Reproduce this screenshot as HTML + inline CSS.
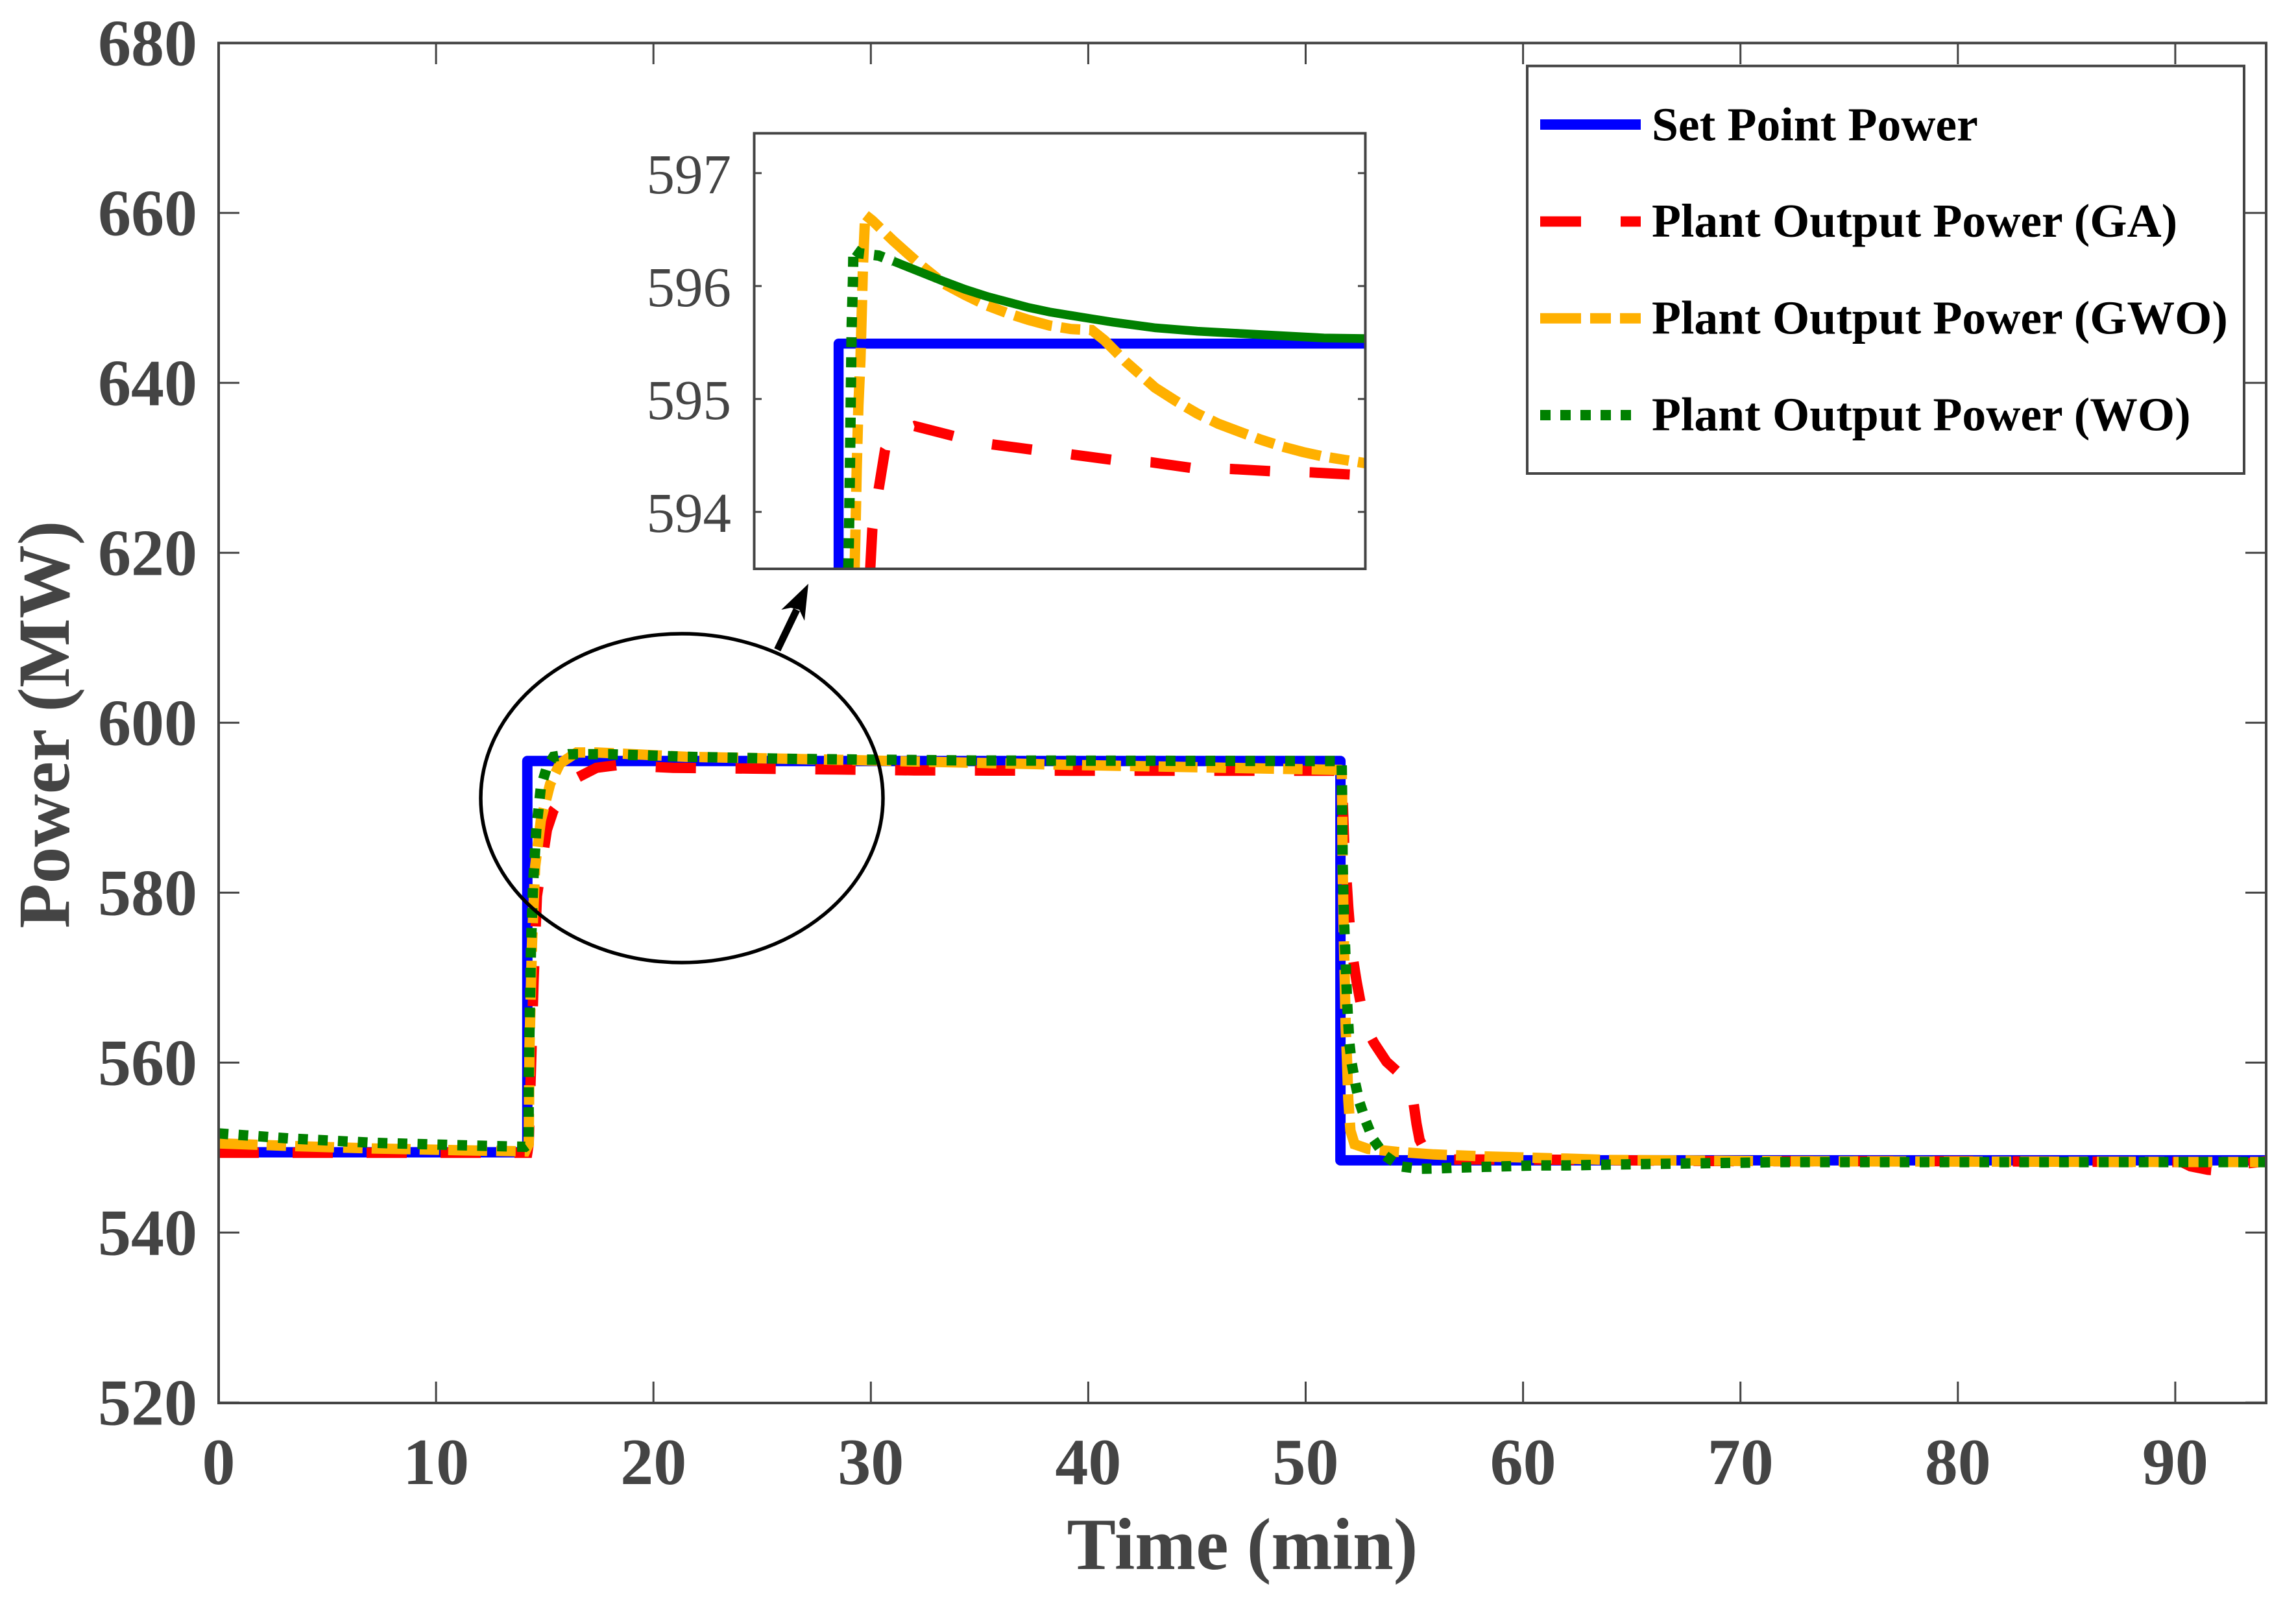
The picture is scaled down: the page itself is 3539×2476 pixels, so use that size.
<!DOCTYPE html>
<html lang="en">
<head>
<meta charset="utf-8">
<title>Power vs Time</title>
<style>
html,body{margin:0;padding:0;background:#fff}
svg{display:block}
text{font-family:"Liberation Serif",serif}
.tick-label{font-weight:bold;font-size:102px;fill:#444}
.axis-title{font-weight:bold;font-size:113px;fill:#444}
.inset-label{font-size:87px;fill:#444}
.legend-label{font-weight:bold;font-size:73.6px;fill:#000}
</style>
</head>
<body>
<svg id="chart" xmlns="http://www.w3.org/2000/svg" width="3539" height="2476" viewBox="0 0 3539 2476">
  <defs>
    <clipPath id="main-clip"><rect x="337" y="66" width="3158" height="2098"></rect></clipPath>
    <clipPath id="inset-clip"><rect x="1162" y="205" width="943" height="672"></rect></clipPath>
  </defs>
  <rect x="0" y="0" width="3539" height="2476" fill="#fff"></rect>
  <g id="main-ticks"></g>
  <g id="main-series" clip-path="url(#main-clip)"></g>
  <rect x="337" y="66.3" width="3156" height="2096.7" fill="none" stroke="#444" stroke-width="4"></rect>
  <g id="tick-labels"></g>
  <text class="axis-title" x="1915" y="2419" text-anchor="middle">Time (min)</text>
  <text class="axis-title" transform="translate(106 1117) rotate(-90)" text-anchor="middle">Power (MW)</text>
  <ellipse cx="1051" cy="1230.5" rx="310" ry="253.5" fill="none" stroke="#000" stroke-width="5.5"></ellipse>
  <path d="M1198.3 1001.7 L1228 940" fill="none" stroke="#000" stroke-width="11"></path>
  <polygon points="1246,900 1240,957 1232,940 1219,937 1204.3,940" fill="#000"></polygon>
  <rect x="1162.5" y="205.5" width="942" height="671.5" fill="#fff"></rect>
  <g id="inset-ticks"></g>
  <g id="inset-series" clip-path="url(#inset-clip)"></g>
  <rect x="1162.5" y="205.5" width="942" height="671.5" fill="none" stroke="#444" stroke-width="4"></rect>
  <g>
    <rect x="2354" y="101.7" width="1105" height="628.3" fill="#fff" stroke="#444" stroke-width="4"></rect>
    <line x1="2374" x2="2529" y1="192" y2="192" stroke="#0000ff" stroke-width="16"></line>
    <text class="legend-label" x="2546" y="216.6">Set Point Power</text>
    <line x1="2374" x2="2529" y1="341.5" y2="341.5" stroke="#ff0000" stroke-width="16" stroke-dasharray="63 61 31"></line>
    <text class="legend-label" x="2546" y="365">Plant Output Power (GA)</text>
    <line x1="2374" x2="2529" y1="490.7" y2="490.7" stroke="#ffb000" stroke-width="16" stroke-dasharray="63 14 32 14 32"></line>
    <text class="legend-label" x="2546" y="514.5">Plant Output Power (GWO)</text>
    <line x1="2374" x2="2529" y1="640" y2="640" stroke="#008000" stroke-width="16" stroke-dasharray="16 15"></line>
    <text class="legend-label" x="2546" y="663.7">Plant Output Power (WO)</text>
  </g>
</svg>
<script>
// ---- tick labels ----
const xTicks = [0, 10, 20, 30, 40, 50, 60, 70, 80, 90];
const yTicks = [520, 540, 560, 580, 600, 620, 640, 660, 680];
const insetYTicks = [594, 595, 596, 597];

// ---- main plot series ----
const setTime = [0, 14.2, 14.2, 51.6, 51.6, 94.2];
const setPower = [549.45, 549.45, 595.5, 595.5, 548.5, 548.5];

const gaTime = [0, 5, 10, 14.2, 14.26, 14.49, 14.64, 15.1, 15.4, 16.54, 17.38, 18.29, 20.9, 24.6, 28.4, 32, 40, 51.66, 51.77, 51.96, 52.12, 52.34, 52.53, 52.77, 53.15, 53.72, 54.2, 54.67, 54.96, 55.1, 55.24, 55.53, 56.1, 60, 70, 80, 90.3, 90.7, 91.5, 92.4, 92.8, 94.2];
const gaPower = [549.4, 549.4, 549.4, 549.4, 550.4, 569.9, 579.6, 587.4, 589.7, 593.6, 594.7, 595, 594.7, 594.6, 594.5, 594.4, 594.35, 594.35, 586, 578.3, 573.2, 569.6, 567, 564.1, 562.3, 560.1, 559, 557.9, 555.3, 552.8, 550.9, 549.5, 548.6, 548.6, 548.4, 548.4, 548.3, 547.8, 547.4, 547.2, 548, 548.4];

const gwoTime = [0, 3.26, 7.07, 10.9, 14.1, 14.26, 14.3, 14.41, 14.56, 14.82, 15.25, 15.7, 16.47, 17.38, 21.5, 26.06, 30, 40, 51.6, 51.66, 51.68, 51.7, 51.74, 51.8, 51.84, 51.9, 51.96, 52.06, 52.25, 52.87, 54.2, 55.9, 58.6, 62, 63.9, 72, 94.2];
const gwoPower = [550.5, 550.2, 549.9, 549.7, 549.55, 550.4, 562, 573.8, 583.1, 588.5, 592.8, 595.2, 596.5, 596.5, 596, 595.76, 595.56, 595, 594.45, 594.4, 590.4, 583.5, 576.9, 569.6, 564.1, 560.4, 555.7, 552, 550.4, 549.85, 549.5, 549.2, 548.93, 548.7, 548.55, 548.4, 548.3];

const woTime = [0, 3.26, 7.07, 10.9, 14.1, 14.26, 14.26, 14.3, 14.37, 14.46, 14.61, 14.82, 15.1, 15.4, 16.09, 17.99, 21.49, 26.06, 30.6, 34.7, 51.6, 51.66, 51.68, 51.7, 51.77, 51.84, 51.91, 52.01, 52.12, 52.29, 52.48, 52.77, 53.1, 53.63, 54.34, 55.24, 56.1, 57, 58.77, 60.57, 62, 63.9, 72, 94.2];
const woPower = [551.67, 551.08, 550.57, 550.3, 550.1, 550.4, 558.2, 564, 573.8, 580.8, 587.4, 592.4, 594.8, 596, 596.3, 596.3, 596, 595.76, 595.64, 595.56, 595.5, 595.15, 590.4, 583.5, 576.5, 571.8, 567, 562.3, 559.9, 557.5, 555.3, 553.1, 551, 549.1, 547.8, 547.5, 547.55, 547.65, 547.77, 547.9, 547.9, 548, 548.3, 548.3];

// ---- inset series ----
const insetSetTime = [14.2, 14.2, 52.02];
const insetSetPower = [593.3, 595.49, 595.49];

const insetGaTime = [16.47, 16.62, 17.07, 17.53, 18.28, 19.65, 22.52, 25.09, 28.12, 30.84, 33.87, 36.59, 39.46, 42.34, 45.21, 48.09, 50.96, 52.02];
const insetGaPower = [593.5, 593.85, 594.2, 594.55, 594.7, 594.76, 594.67, 594.6, 594.55, 594.51, 594.46, 594.44, 594.39, 594.38, 594.36, 594.35, 594.33, 594.32];

const insetGwoTime = [15.35, 15.41, 15.5, 15.62, 15.77, 15.86, 15.95, 16.11, 16.62, 18.13, 19.95, 21.76, 23.28, 24.79, 26.3, 27.82, 29.33, 30.84, 32.35, 33.26, 34.78, 35.84, 36.89, 38.41, 39.92, 41.43, 42.94, 44.46, 45.97, 47.48, 48.99, 50.5, 52.02];
const insetGwoPower = [593.5, 593.82, 594.38, 594.94, 595.35, 595.77, 596.19, 596.63, 596.58, 596.4, 596.2, 596.02, 595.92, 595.83, 595.76, 595.7, 595.65, 595.62, 595.61, 595.52, 595.33, 595.215, 595.1, 594.98, 594.87, 594.78, 594.71, 594.64, 594.58, 594.53, 594.49, 594.46, 594.43];

const insetWoRiseTime = [14.9, 14.96, 15.02, 15.08, 15.14, 15.23, 15.26, 15.71, 17.07, 18.13];
const insetWoRisePower = [593.5, 593.91, 594.44, 595.08, 595.66, 596.05, 596.33, 596.29, 596.27, 596.22];
const insetWoDecayTime = [18.13, 19.95, 21.76, 23.28, 24.79, 26.3, 27.82, 29.33, 30.84, 32.35, 33.87, 36.89, 39.92, 42.94, 45.97, 48.99, 52.02];
const insetWoDecayPower = [596.22, 596.13, 596.04, 595.97, 595.91, 595.86, 595.81, 595.77, 595.74, 595.71, 595.68, 595.63, 595.6, 595.58, 595.56, 595.54, 595.535];

// ---- axis functions ----
function xMain(t) { return 337 + t * 33.51; }
function yMain(v) { return 66.3 + (680 - v) * 13.1; }
function xInset(t) { return 1162.5 + (t - 8.15) * 21.5; }
function yInset(v) { return 441 + (596 - v) * 174.1; }

const NS = 'http://www.w3.org/2000/svg';
const byId = (id) => document.getElementById(id);

function buildPoints(times, values, xf, yf) {
  return times.map((t, i) => xf(t).toFixed(1) + ',' + yf(values[i]).toFixed(1)).join(' ');
}

function drawLine(parent, times, values, xf, yf, color, width, dash, join) {
  const el = document.createElementNS(NS, 'polyline');
  el.setAttribute('points', buildPoints(times, values, xf, yf));
  el.setAttribute('fill', 'none');
  el.setAttribute('stroke', color);
  el.setAttribute('stroke-width', width);
  el.setAttribute('stroke-linejoin', join || 'miter');
  el.setAttribute('stroke-miterlimit', '3');
  if (dash) el.setAttribute('stroke-dasharray', dash);
  parent.appendChild(el);
  return el;
}

function drawTick(parent, x1, y1, x2, y2) {
  const el = document.createElementNS(NS, 'line');
  el.setAttribute('x1', x1);
  el.setAttribute('y1', y1);
  el.setAttribute('x2', x2);
  el.setAttribute('y2', y2);
  el.setAttribute('stroke', '#444');
  el.setAttribute('stroke-width', '3');
  parent.appendChild(el);
  return el;
}

function drawLabel(parent, cls, x, y, anchor, str) {
  const el = document.createElementNS(NS, 'text');
  el.setAttribute('class', cls);
  el.setAttribute('x', x);
  el.setAttribute('y', y);
  el.setAttribute('text-anchor', anchor);
  el.textContent = str;
  parent.appendChild(el);
  return el;
}

// ---- main ticks and labels ----
const mainTicks = byId('main-ticks');
const tickLabels = byId('tick-labels');
xTicks.forEach((t) => {
  const bottom = drawTick(mainTicks, xMain(t), 2163, xMain(t), 2130);
  
  
  const top = drawTick(mainTicks, xMain(t), 66, xMain(t), 99);
  
  
  const label = drawLabel(tickLabels, 'tick-label', xMain(t), 2288, 'middle', String(t));
  
  
});
yTicks.forEach((v) => {
  const left = drawTick(mainTicks, 337, yMain(v), 369, yMain(v));
  
  
  const right = drawTick(mainTicks, 3493, yMain(v), 3461, yMain(v));
  
  
  const label = drawLabel(tickLabels, 'tick-label', 304, yMain(v) + 34, 'end', String(v));
  
  
});

// ---- main series ----
const mainSeries = byId('main-series');
const mainSet = drawLine(mainSeries, setTime, setPower, xMain, yMain, '#0000ff', 16, null, 'round');


// the leading flat stretch of the GA trace has slightly tighter dashes than the rest
const gaDash = '62 52 '.repeat(4) + '62 61 '.repeat(60);
const mainGa = drawLine(mainSeries, gaTime, gaPower, xMain, yMain, '#ff0000', 16, gaDash);


const mainGwo = drawLine(mainSeries, gwoTime, gwoPower, xMain, yMain, '#ffb000', 16, '60 14 30 14');


const mainWo = drawLine(mainSeries, woTime, woPower, xMain, yMain, '#008000', 16, '15 15.7');



// ---- inset ticks and labels ----
const insetTicks = byId('inset-ticks');
insetYTicks.forEach((v) => {
  const left = drawTick(insetTicks, 1162.5, yInset(v), 1174, yInset(v));
  
  
  const right = drawTick(insetTicks, 2104.5, yInset(v), 2093, yInset(v));
  
  
  const label = drawLabel(insetTicks, 'inset-label', 1127, yInset(v) + 31, 'end', String(v));
  
  
});

// ---- inset series ----
const insetSeries = byId('inset-series');
const insetSet = drawLine(insetSeries, insetSetTime, insetSetPower, xInset, yInset, '#0000ff', 15.5, null, 'round');


const insetGa = drawLine(insetSeries, insetGaTime, insetGaPower, xInset, yInset, '#ff0000', 16, '62 61');


const insetGwo = drawLine(insetSeries, insetGwoTime, insetGwoPower, xInset, yInset, '#ffb000', 16, '60 14 30 14');


const insetWoRise = drawLine(insetSeries, insetWoRiseTime, insetWoRisePower, xInset, yInset, '#008000', 16, '15.5 15.5');


const insetWoDecay = drawLine(insetSeries, insetWoDecayTime, insetWoDecayPower, xInset, yInset, '#008000', 13.5);


</script>
</body>
</html>
